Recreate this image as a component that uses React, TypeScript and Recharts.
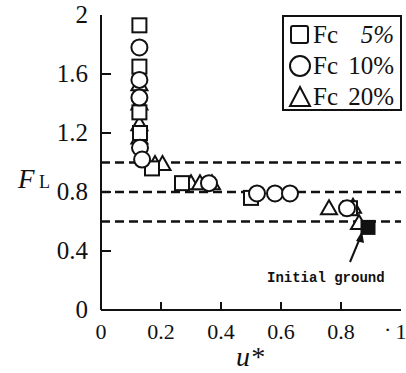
import React from 'react';
import { ScatterChart, Scatter, XAxis, YAxis, ReferenceLine } from 'recharts';

// u* / F_L readings for each fines content
const fc5U = [0.128, 0.128, 0.128, 0.13, 0.17, 0.27, 0.5, 0.83];
const fc5F = [1.93, 1.65, 1.34, 1.2, 0.96, 0.86, 0.76, 0.69];

const fc10U = [0.128, 0.128, 0.128, 0.13, 0.137, 0.36, 0.52, 0.58, 0.63, 0.82];
const fc10F = [1.78, 1.56, 1.44, 1.1, 1.02, 0.86, 0.79, 0.79, 0.79, 0.69];

const fc20U = [0.128, 0.128, 0.128, 0.128, 0.18, 0.205, 0.3, 0.33, 0.37, 0.76, 0.84, 0.86];
const fc20F = [1.53, 1.4, 1.26, 1.17, 0.99, 0.99, 0.86, 0.86, 0.86, 0.69, 0.7, 0.59];

const initU = [0.89];
const initF = [0.56];

const xTicks = [0, 0.2, 0.4, 0.6, 0.8, 1];
const yTicks = [0, 0.4, 0.8, 1.2, 1.6, 2];
const levels = [1.0, 0.8, 0.6];

const toPoints = (u: number[], f: number[]) => u.map((x, i) => ({ u: x, f: f[i] }));

const serif = '"Liberation Serif", "DejaVu Serif", serif';
const ink = '#111';

const SquareMark = ({ cx, cy }: any) => (
  <rect x={cx - 7} y={cy - 7} width={14} height={14} fill="#fff" stroke={ink} strokeWidth={2} />
);
const FilledSquare = ({ cx, cy }: any) => (
  <rect x={cx - 6.5} y={cy - 6.5} width={13} height={13} fill={ink} stroke={ink} strokeWidth={2} />
);
const CircleMark = ({ cx, cy }: any) => (
  <circle cx={cx} cy={cy} r={8} fill="#fff" stroke={ink} strokeWidth={2} />
);
const TriangleMark = ({ cx, cy }: any) => (
  <polygon
    points={`${cx},${cy - 8} ${cx + 8},${cy + 6} ${cx - 8},${cy + 6}`}
    fill="#fff"
    stroke={ink}
    strokeWidth={2}
    strokeLinejoin="miter"
  />
);

const BottomTick = ({ x, y, payload }: any) => {
  const v = payload.value;
  const inner = v > 0 && v < 1;
  return (
    <g>
      {inner && <line x1={x} y1={y} x2={x} y2={y - 8} stroke={ink} strokeWidth={2} />}
      <text x={x} y={y + 29} textAnchor="middle" fontFamily={serif} fontSize={22} fill={ink}>
        {String(v)}
      </text>
    </g>
  );
};

const LeftTick = ({ x, y, payload }: any) => {
  const v = payload.value;
  const inner = v > 0 && v < 2;
  return (
    <g>
      {inner && <line x1={x} y1={y} x2={x + 10} y2={y} stroke={ink} strokeWidth={2} />}
      <text x={x - 13} y={y + 8} textAnchor="end" fontFamily={serif} fontSize={25} fill={ink}>
        {String(v)}
      </text>
    </g>
  );
};

const TopTick = ({ x, y }: any) => <line x1={x} y1={y} x2={x} y2={y + 7} stroke={ink} strokeWidth={2} />;
const RightTick = ({ x, y }: any) => <line x1={x} y1={y} x2={x - 7} y2={y} stroke={ink} strokeWidth={2} />;

const LegendRow = ({ kind, label }: { kind: string; label: string }) => (
  <div style={{ display: 'flex', alignItems: 'center', height: 31 }}>
    <svg width={24} height={24} style={{ marginRight: 1 }}>
      {kind === 'square' && <rect x={3} y={3} width={17} height={17} rx={2} fill="#fff" stroke={ink} strokeWidth={2} />}
      {kind === 'circle' && <circle cx={12} cy={12} r={10} fill="#fff" stroke={ink} strokeWidth={2} />}
      {kind === 'triangle' && <polygon points="12,2 22,21 2,21" fill="#fff" stroke={ink} strokeWidth={2} />}
    </svg>
    <span style={{ fontFamily: serif, fontSize: 25, color: ink, flex: 1 }}>Fc</span>
    <span style={{ fontFamily: serif, fontSize: 25, color: ink, fontStyle: label === '5%' ? 'italic' : 'normal' }}>
      {label}
    </span>
  </div>
);

export default function App() {
  return (
    <div style={{ position: 'absolute', left: 0, top: 0, width: 406, height: 373, background: '#fff' }}>
      <ScatterChart width={406} height={373} margin={{ top: 15, right: 5, bottom: 0, left: 0 }}>
        <XAxis
          xAxisId="b"
          dataKey="u"
          type="number"
          domain={[0, 1]}
          ticks={xTicks}
          orientation="bottom"
          height={63}
          tickSize={0}
          tickMargin={0}
          tickLine={false}
          axisLine={{ stroke: ink, strokeWidth: 2 }}
          tick={<BottomTick />}
          interval={0}
        />
        <XAxis
          xAxisId="t"
          dataKey="u"
          type="number"
          domain={[0, 1]}
          ticks={[0.2, 0.4]}
          orientation="top"
          height={0}
          tickSize={0}
          tickMargin={0}
          tickLine={false}
          axisLine={{ stroke: ink, strokeWidth: 2 }}
          tick={<TopTick />}
          interval={0}
        />
        <YAxis
          yAxisId="l"
          dataKey="f"
          type="number"
          domain={[0, 2]}
          ticks={yTicks}
          width={101}
          tickSize={0}
          tickMargin={0}
          tickLine={false}
          axisLine={{ stroke: ink, strokeWidth: 2 }}
          tick={<LeftTick />}
          interval={0}
        />
        <YAxis
          yAxisId="r"
          dataKey="f"
          type="number"
          domain={[0, 2]}
          ticks={[0.4, 1.2]}
          orientation="right"
          width={0}
          tickSize={0}
          tickMargin={0}
          tickLine={false}
          axisLine={{ stroke: ink, strokeWidth: 2 }}
          tick={<RightTick />}
          interval={0}
        />
        {levels.map((lv) => (
          <ReferenceLine
            key={lv}
            xAxisId="b"
            yAxisId="l"
            y={lv}
            stroke={ink}
            strokeWidth={2.5}
            strokeDasharray="9 5"
          />
        ))}
        <Scatter xAxisId="b" yAxisId="l" data={toPoints(fc20U, fc20F)} shape={<TriangleMark />} isAnimationActive={false} />
        <Scatter xAxisId="b" yAxisId="l" data={toPoints(fc5U, fc5F)} shape={<SquareMark />} isAnimationActive={false} />
        <Scatter xAxisId="b" yAxisId="l" data={toPoints(fc10U, fc10F)} shape={<CircleMark />} isAnimationActive={false} />
        <Scatter xAxisId="b" yAxisId="l" data={toPoints(initU, initF)} shape={<FilledSquare />} isAnimationActive={false} />
      </ScatterChart>

      <svg width={406} height={373} style={{ position: 'absolute', left: 0, top: 0, pointerEvents: 'none' }}>
        <text x={18} y={188} fontFamily={serif} fontStyle="italic" fontSize={27} fill={ink}>F</text>
        <text x={39} y={188} fontFamily={serif} fontSize={18} fill={ink}>L</text>
        <text x={236} y={366} fontFamily={serif} fontStyle="italic" fontSize={28} fill={ink}>u*</text>
        <text x={384} y={337} fontFamily={serif} fontSize={22} fill={ink}>·</text>
        <line x1={350} y1={262} x2={360} y2={238} stroke={ink} strokeWidth={2} />
        <polygon points="362,231 356,241 364,243" fill={ink} />
        <text x={267} y={282} fontFamily='"Liberation Mono", monospace' fontWeight="bold" fontSize={14} fill={ink}>
          Initial ground
        </text>
      </svg>

      <div
        style={{
          position: 'absolute',
          left: 282,
          top: 15,
          width: 106,
          height: 90,
          border: `2px solid ${ink}`,
          background: '#fff',
          padding: '2px 6px 0 4px',
          boxSizing: 'content-box',
        }}
      >
        <LegendRow kind="square" label="5%" />
        <LegendRow kind="circle" label="10%" />
        <LegendRow kind="triangle" label="20%" />
      </div>
    </div>
  );
}
